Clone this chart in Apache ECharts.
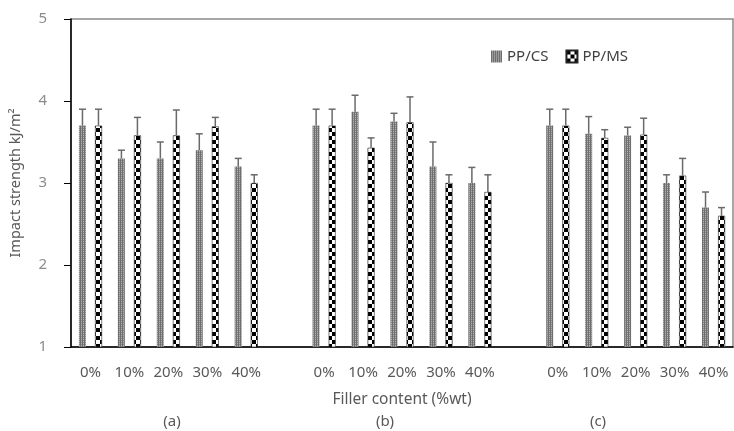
<!DOCTYPE html>
<html>
<head>
<meta charset="utf-8">
<script src="https://cdn.jsdelivr.net/npm/echarts@6/dist/echarts.min.js"></script>
<style>
  html, body { margin: 0; padding: 0; background: #fff; }
  #chart { width: 734px; height: 431px; }
</style>
</head>
<body>
<div id="chart"></div>
<script>
// three groups (a) (b) (c), empty category between groups
const categories = ['0%', '10%', '20%', '30%', '40%', '',
                    '0%', '10%', '20%', '30%', '40%', '',
                    '0%', '10%', '20%', '30%', '40%'];
const csMean = [3.7, 3.3, 3.3, 3.4, 3.2, null,
                3.7, 3.87, 3.75, 3.2, 3.0, null,
                3.7, 3.6, 3.58, 3.0, 2.7];
const csErr = [0.2, 0.1, 0.2, 0.2, 0.1, null,
               0.2, 0.2, 0.1, 0.3, 0.19, null,
               0.2, 0.21, 0.1, 0.1, 0.19];
const msMean = [3.7, 3.58, 3.58, 3.69, 3.0, null,
                3.7, 3.43, 3.74, 3.0, 2.89, null,
                3.7, 3.55, 3.59, 3.09, 2.6];
const msErr = [0.2, 0.22, 0.31, 0.11, 0.1, null,
               0.2, 0.12, 0.31, 0.1, 0.21, null,
               0.2, 0.1, 0.2, 0.21, 0.1];
const groupLabels = ['(a)', '(b)', '(c)'];
const groupLabelX = [172, 385, 598];

const font = "'Noto Sans', sans-serif";

function makePattern(kind) {
  const c = document.createElement('canvas');
  const ctx = c.getContext('2d');
  if (kind === 'cs') {
    c.width = 2; c.height = 2;
    ctx.fillStyle = '#b0b0b0'; ctx.fillRect(0, 0, 2, 2);
    ctx.fillStyle = '#6e6e6e'; ctx.fillRect(0, 0, 1, 2);
    ctx.fillStyle = '#888'; ctx.fillRect(1, 0, 1, 1);
  } else {
    c.width = 8; c.height = 8;
    ctx.fillStyle = '#fff'; ctx.fillRect(0, 0, 8, 8);
    ctx.fillStyle = '#000';
    ctx.fillRect(0, 0, 4, 4);
    ctx.fillRect(4, 4, 4, 4);
  }
  return { image: c, repeat: 'repeat' };
}

const csFill = makePattern('cs');
const msFill = makePattern('ms');

function errData(mean, err) {
  const out = [];
  mean.forEach((m, i) => {
    if (m != null) out.push([i, m, m + err[i]]);
  });
  return out;
}

function errorBar(offset) {
  return function (params, api) {
    const lo = api.coord([api.value(0), api.value(1)]);
    const hi = api.coord([api.value(0), api.value(2)]);
    const x = lo[0] + offset;
    const style = { stroke: '#6a6a6a', lineWidth: 1.5 };
    return {
      type: 'group',
      children: [
        { type: 'line', shape: { x1: x, y1: lo[1], x2: x, y2: hi[1] }, style: style },
        { type: 'line', shape: { x1: x - 3.5, y1: hi[1], x2: x + 3.5, y2: hi[1] }, style: style }
      ]
    };
  };
}

const chart = echarts.init(document.getElementById('chart'));
chart.setOption({
  animation: false,
  textStyle: { fontFamily: font },
  grid: {
    left: 69, right: 1, top: 19, bottom: 84,
    show: true, borderColor: '#8a8a8a', borderWidth: 1.5
  },
  legend: {
    left: 486, top: 44,
    itemWidth: 11, itemHeight: 12, itemGap: 17,
    icon: 'rect',
    textStyle: { fontFamily: font, fontSize: 15, color: '#404040' },
    data: ['PP/CS', 'PP/MS']
  },
  xAxis: {
    type: 'category',
    data: categories,
    name: 'Filler content (%wt)',
    nameLocation: 'middle',
    nameGap: 45,
    nameTextStyle: { fontFamily: font, fontSize: 15.5, color: '#595959' },
    axisLine: { lineStyle: { color: '#000', width: 1.5 } },
    axisTick: { length: 6, lineStyle: { color: '#000' } },
    axisLabel: { margin: 18, fontFamily: font, fontSize: 15, color: '#595959', interval: 0 }
  },
  yAxis: {
    type: 'value',
    min: 1, max: 5, interval: 1,
    name: 'Impact strength kJ/m²',
    nameLocation: 'middle',
    nameGap: 48,
    nameTextStyle: { fontFamily: font, fontSize: 14.5, color: '#595959' },
    axisLine: { show: true, lineStyle: { color: '#000', width: 1.5 } },
    axisTick: { show: true, length: 7, lineStyle: { color: '#000' } },
    axisLabel: { margin: 24, fontFamily: font, fontSize: 15, color: '#8c8c8c' },
    splitLine: { show: false }
  },
  graphic: groupLabels.map((t, i) => ({
    type: 'text',
    x: groupLabelX[i], y: 422,
    style: { text: t, fill: '#595959', font: '15px ' + font, align: 'center', verticalAlign: 'middle' }
  })),
  series: [
    {
      name: 'PP/CS', type: 'bar',
      data: csMean.map(v => (v == null ? '-' : v)),
      barWidth: 7, barGap: '130%',
      itemStyle: { color: csFill }
    },
    {
      name: 'PP/MS', type: 'bar',
      data: msMean.map(v => (v == null ? '-' : v)),
      barWidth: 7,
      itemStyle: { color: msFill, borderColor: '#222', borderWidth: 0.6 }
    },
    {
      type: 'custom', renderItem: errorBar(-8),
      data: errData(csMean, csErr), z: 3, silent: true
    },
    {
      type: 'custom', renderItem: errorBar(8),
      data: errData(msMean, msErr), z: 3, silent: true
    }
  ]
});
</script>
</body>
</html>
